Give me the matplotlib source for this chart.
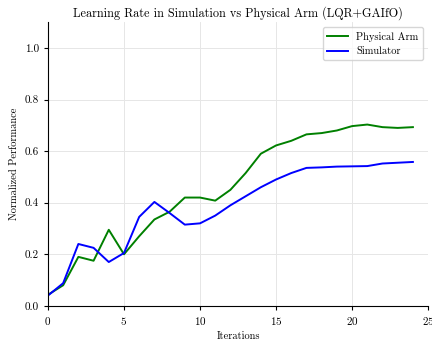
import matplotlib
matplotlib.use('Agg')
import matplotlib.pyplot as plt

plt.rcParams['font.family'] = ['cmr10', 'DejaVu Serif']
plt.rcParams['mathtext.fontset'] = 'cm'
plt.rcParams['axes.formatter.use_mathtext'] = True

# dados
iteracoes = list(range(25))
fisico = [0.043, 0.080, 0.190, 0.175, 0.295, 0.200, 0.270, 0.335, 0.365, 0.420,
          0.420, 0.408, 0.450, 0.515, 0.590, 0.622, 0.640, 0.665, 0.670, 0.680,
          0.697, 0.703, 0.693, 0.690, 0.693]
simulador = [0.040, 0.088, 0.240, 0.225, 0.170, 0.205, 0.345, 0.403, 0.360, 0.315,
             0.320, 0.350, 0.390, 0.425, 0.460, 0.490, 0.515, 0.535, 0.537, 0.540,
             0.541, 0.542, 0.552, 0.555, 0.558]

fig = plt.figure(figsize=(4.32, 3.41), dpi=100)
ax = fig.add_axes([0.111, 0.103, 0.880, 0.832])

ax.plot(iteracoes, fisico, color='green', lw=1.4, label='Physical Arm')
ax.plot(iteracoes, simulador, color='blue', lw=1.4, label='Simulator')

ax.set_xlim(0, 25)
ax.set_ylim(0, 1.1)
ax.set_xticks([0, 5, 10, 15, 20, 25])
ax.set_yticks([0.0, 0.2, 0.4, 0.6, 0.8, 1.0])
ax.set_yticklabels(['0.0', '0.2', '0.4', '0.6', '0.8', '1.0'])
ax.grid(True, color='#e6e6e6', lw=0.7)
ax.set_axisbelow(True)
for s in ['top', 'right']:
    ax.spines[s].set_visible(False)
ax.tick_params(labelsize=8, length=3)

ax.set_xlabel('Iterations', fontsize=7.5, labelpad=3)
ax.set_ylabel('Normalized Performance', fontsize=7.5)
ax.set_title('Learning Rate in Simulation vs Physical Arm (LQR+GAIfO)', fontsize=8.8, pad=4)
ax.legend(loc='upper right', fontsize=7.5)

fig.savefig('out.png', dpi=100)
